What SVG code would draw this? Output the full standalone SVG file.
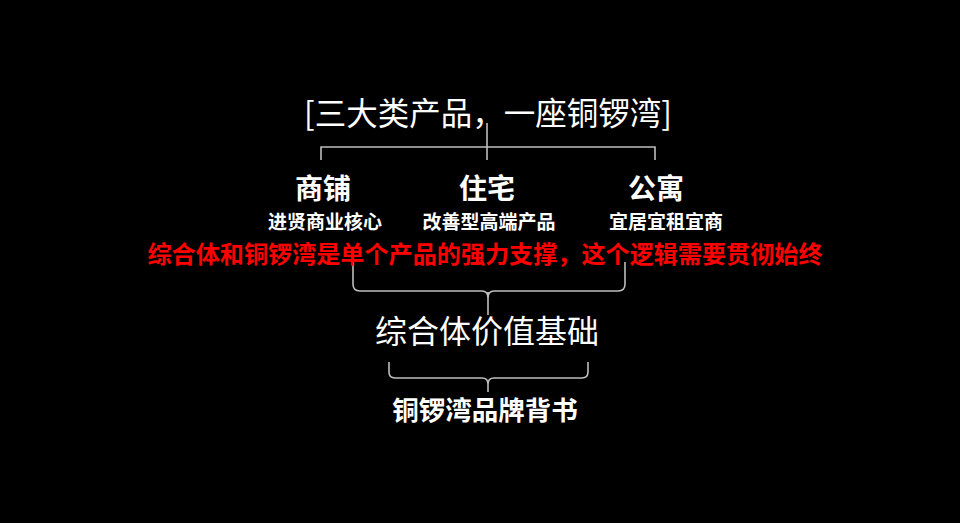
<svg xmlns="http://www.w3.org/2000/svg" width="960" height="523" viewBox="0 0 960 523">
<style>
text{font-family:"Noto Sans CJK SC","Noto Sans",sans-serif;fill:#fff;text-anchor:middle}
.t{font-size:31.5px}
.h{font-size:28px;font-weight:bold}
.s{font-size:19px;font-weight:bold}
.r{font-size:24px;font-weight:bold;fill:#ff0000}
.m{font-size:32px}
.b{font-size:26.5px;font-weight:bold}
.ln{fill:none;stroke:#bdbdbd;stroke-width:1.6}
</style>
<rect width="960" height="523" fill="#000"/>
<g id="connectors">
<path class="ln" d="M321,160 L321,147 L655,147 L655,160 M487,123 L487,160"/>
<path class="ln" d="M353,262 L353,284 Q353,291 360,291 L482,291 Q488,291 488,298 M488,298 Q488,291 494,291 L618,291 Q625,291 625,284 L625,262 M488,292 L488,315"/>
<path class="ln" d="M389,362 L389,372 Q389,378 395,378 L482,378 Q488,378 488,384 L488,392 M488,384 Q488,378 494,378 L582,378 Q588,378 588,372 L588,362"/>
</g>
<g id="title"><text class="t" x="488" y="125">[三大类产品，一座铜锣湾]</text></g>
<g id="shop"><text class="h" x="323" y="199">商铺</text><text class="s" x="325" y="229">进贤商业核心</text></g>
<g id="house"><text class="h" x="487" y="199">住宅</text><text class="s" x="489" y="229">改善型高端产品</text></g>
<g id="apartment"><text class="h" x="656" y="199">公寓</text><text class="s" x="666" y="229">宜居宜租宜商</text></g>
<g id="note"><text class="r" x="485" y="263" textLength="675" lengthAdjust="spacingAndGlyphs">综合体和铜锣湾是单个产品的强力支撑，这个逻辑需要贯彻始终</text></g>
<g id="base"><text class="m" x="487" y="343">综合体价值基础</text></g>
<g id="brand"><text class="b" x="485" y="420">铜锣湾品牌背书</text></g>
</svg>
